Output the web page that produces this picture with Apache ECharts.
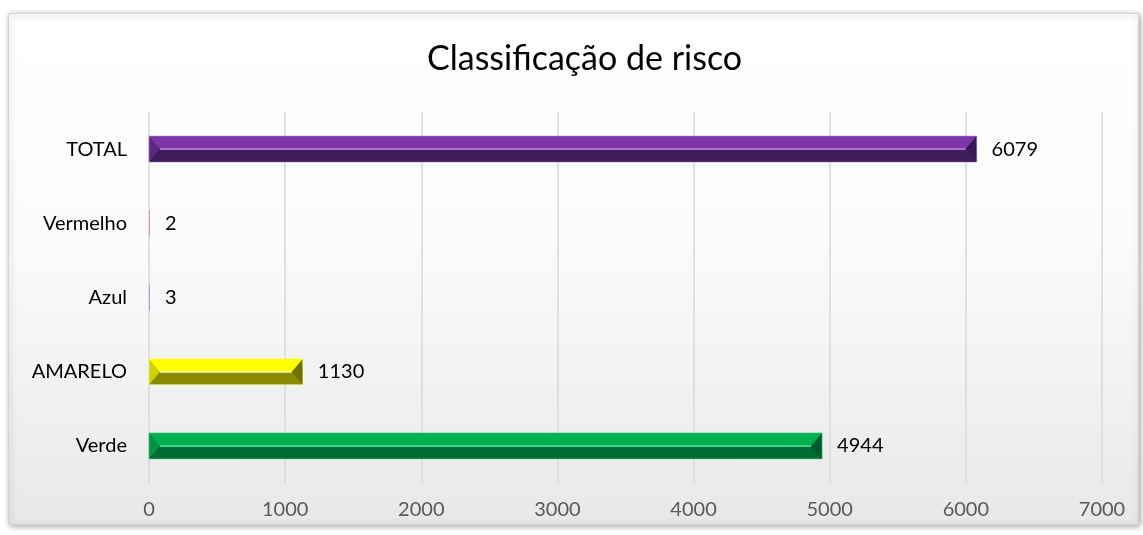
<!DOCTYPE html>
<html>
<head>
<meta charset="utf-8">
<script src="https://cdn.jsdelivr.net/npm/echarts@6/dist/echarts.min.js"></script>
<style>
  html, body { margin: 0; padding: 0; background: #fff; }
  #chart { width: 1143px; height: 535px; }
</style>
</head>
<body>
<div id="chart"></div>
<script>
  // dados (de baixo para cima)
  const categorias = ['Verde', 'AMARELO', 'Azul', 'Vermelho', 'TOTAL'];
  const valores = [4944, 1130, 3, 2, 6079];
  const eixoMin = 0;
  const eixoMax = 7000;
  const eixoPasso = 1000;

  // cores: [topo, brilho, base, ponta esquerda, ponta direita]
  const paleta = [
    ['#00b050', '#40d080', '#006b31', '#009444', '#005a29'],
    ['#ffff00', '#ffff90', '#8a8a00', '#d0d000', '#707000'],
    ['#8ea9db', '#8fa9dc', '#8ea9db', '#3a62a8', '#223c6c'],
    ['#d99694', '#d88a88', '#d99694', '#a04442', '#632523'],
    ['#7f35aa', '#a876c8', '#3f1d5c', '#5f2886', '#341850']
  ];
  const fonte = 'Lato, "Noto Sans", sans-serif';

  function desenhaBarra(params, api) {
    const v = api.value(0);
    const cat = api.value(1);
    const a = api.coord([0, cat]);
    const b = api.coord([v, cat]);
    const h = 26;
    const x0 = a[0], x1 = Math.max(b[0], a[0] + 1);
    const y0 = a[1] - h / 2, y1 = a[1] + h / 2, ym = a[1];
    const c = paleta[params.dataIndex];
    const bv = Math.min(11, (x1 - x0) / 2);
    const filhos = [
      { type: 'rect', shape: { x: x0, y: y0, width: x1 - x0, height: h / 2 }, style: { fill: c[0] } },
      { type: 'rect', shape: { x: x0, y: ym, width: x1 - x0, height: h / 2 }, style: { fill: c[2] } }
    ];
    if (bv > 2) {
      filhos.push(
        { type: 'line', shape: { x1: x0 + bv, y1: ym, x2: x1 - bv, y2: ym }, style: { stroke: c[1], lineWidth: 2 } },
        { type: 'polygon', shape: { points: [[x0, y0], [x0 + bv, ym], [x0, y1]] }, style: { fill: c[3] } },
        { type: 'polygon', shape: { points: [[x1, y0], [x1 - bv, ym], [x1, y1]] }, style: { fill: c[4] } },
        { type: 'rect', shape: { x: x0, y: y0, width: x1 - x0, height: h }, style: { fill: null, stroke: c[1], lineWidth: 0.8, opacity: 0.7 } }
      );
    }
    filhos.push({
      type: 'text',
      style: {
        text: String(v), x: x1 + 15, y: ym,
        verticalAlign: 'middle', fill: '#000', fontSize: 20, fontFamily: fonte
      }
    });
    return { type: 'group', children: filhos };
  }

  let myChart = echarts.init(document.getElementById('chart'));
  myChart.setOption({
    animation: false,
    textStyle: { fontFamily: fonte },
    graphic: [{
      type: 'rect',
      left: 8, top: 13,
      shape: { width: 1130, height: 511 },
      style: {
        fill: new echarts.graphic.LinearGradient(0, 0, 0, 1, [
          { offset: 0, color: '#ffffff' },
          { offset: 0.45, color: '#fbfbfb' },
          { offset: 1, color: '#e8e8e8' }
        ]),
        stroke: '#d4d4d4',
        lineWidth: 1,
        shadowBlur: 6,
        shadowColor: 'rgba(0,0,0,0.35)',
        shadowOffsetX: 1,
        shadowOffsetY: 1
      },
      z: -10
    }],
    title: {
      text: 'Classificação de risco',
      left: 422,
      top: 37,
      textStyle: { fontSize: 34, fontWeight: 'normal', color: '#000', fontFamily: fonte }
    },
    grid: { left: 149, right: 41, top: 112, bottom: 52 },
    xAxis: {
      type: 'value',
      min: eixoMin,
      max: eixoMax,
      interval: eixoPasso,
      axisLine: { show: false },
      axisTick: { show: false },
      axisLabel: { color: '#595959', fontSize: 20, margin: 17, formatter: v => String(v) },
      splitLine: { lineStyle: { color: '#d9d9d9', width: 1.5 } }
    },
    yAxis: {
      type: 'category',
      data: categorias,
      axisLine: { show: false },
      axisTick: { show: false },
      axisLabel: { color: '#000', fontSize: 20, margin: 22 }
    },
    series: [{
      type: 'custom',
      renderItem: desenhaBarra,
      encode: { x: 0, y: 1 },
      data: valores.map((v, i) => [v, i])
    }]
  });
</script>
</body>
</html>
